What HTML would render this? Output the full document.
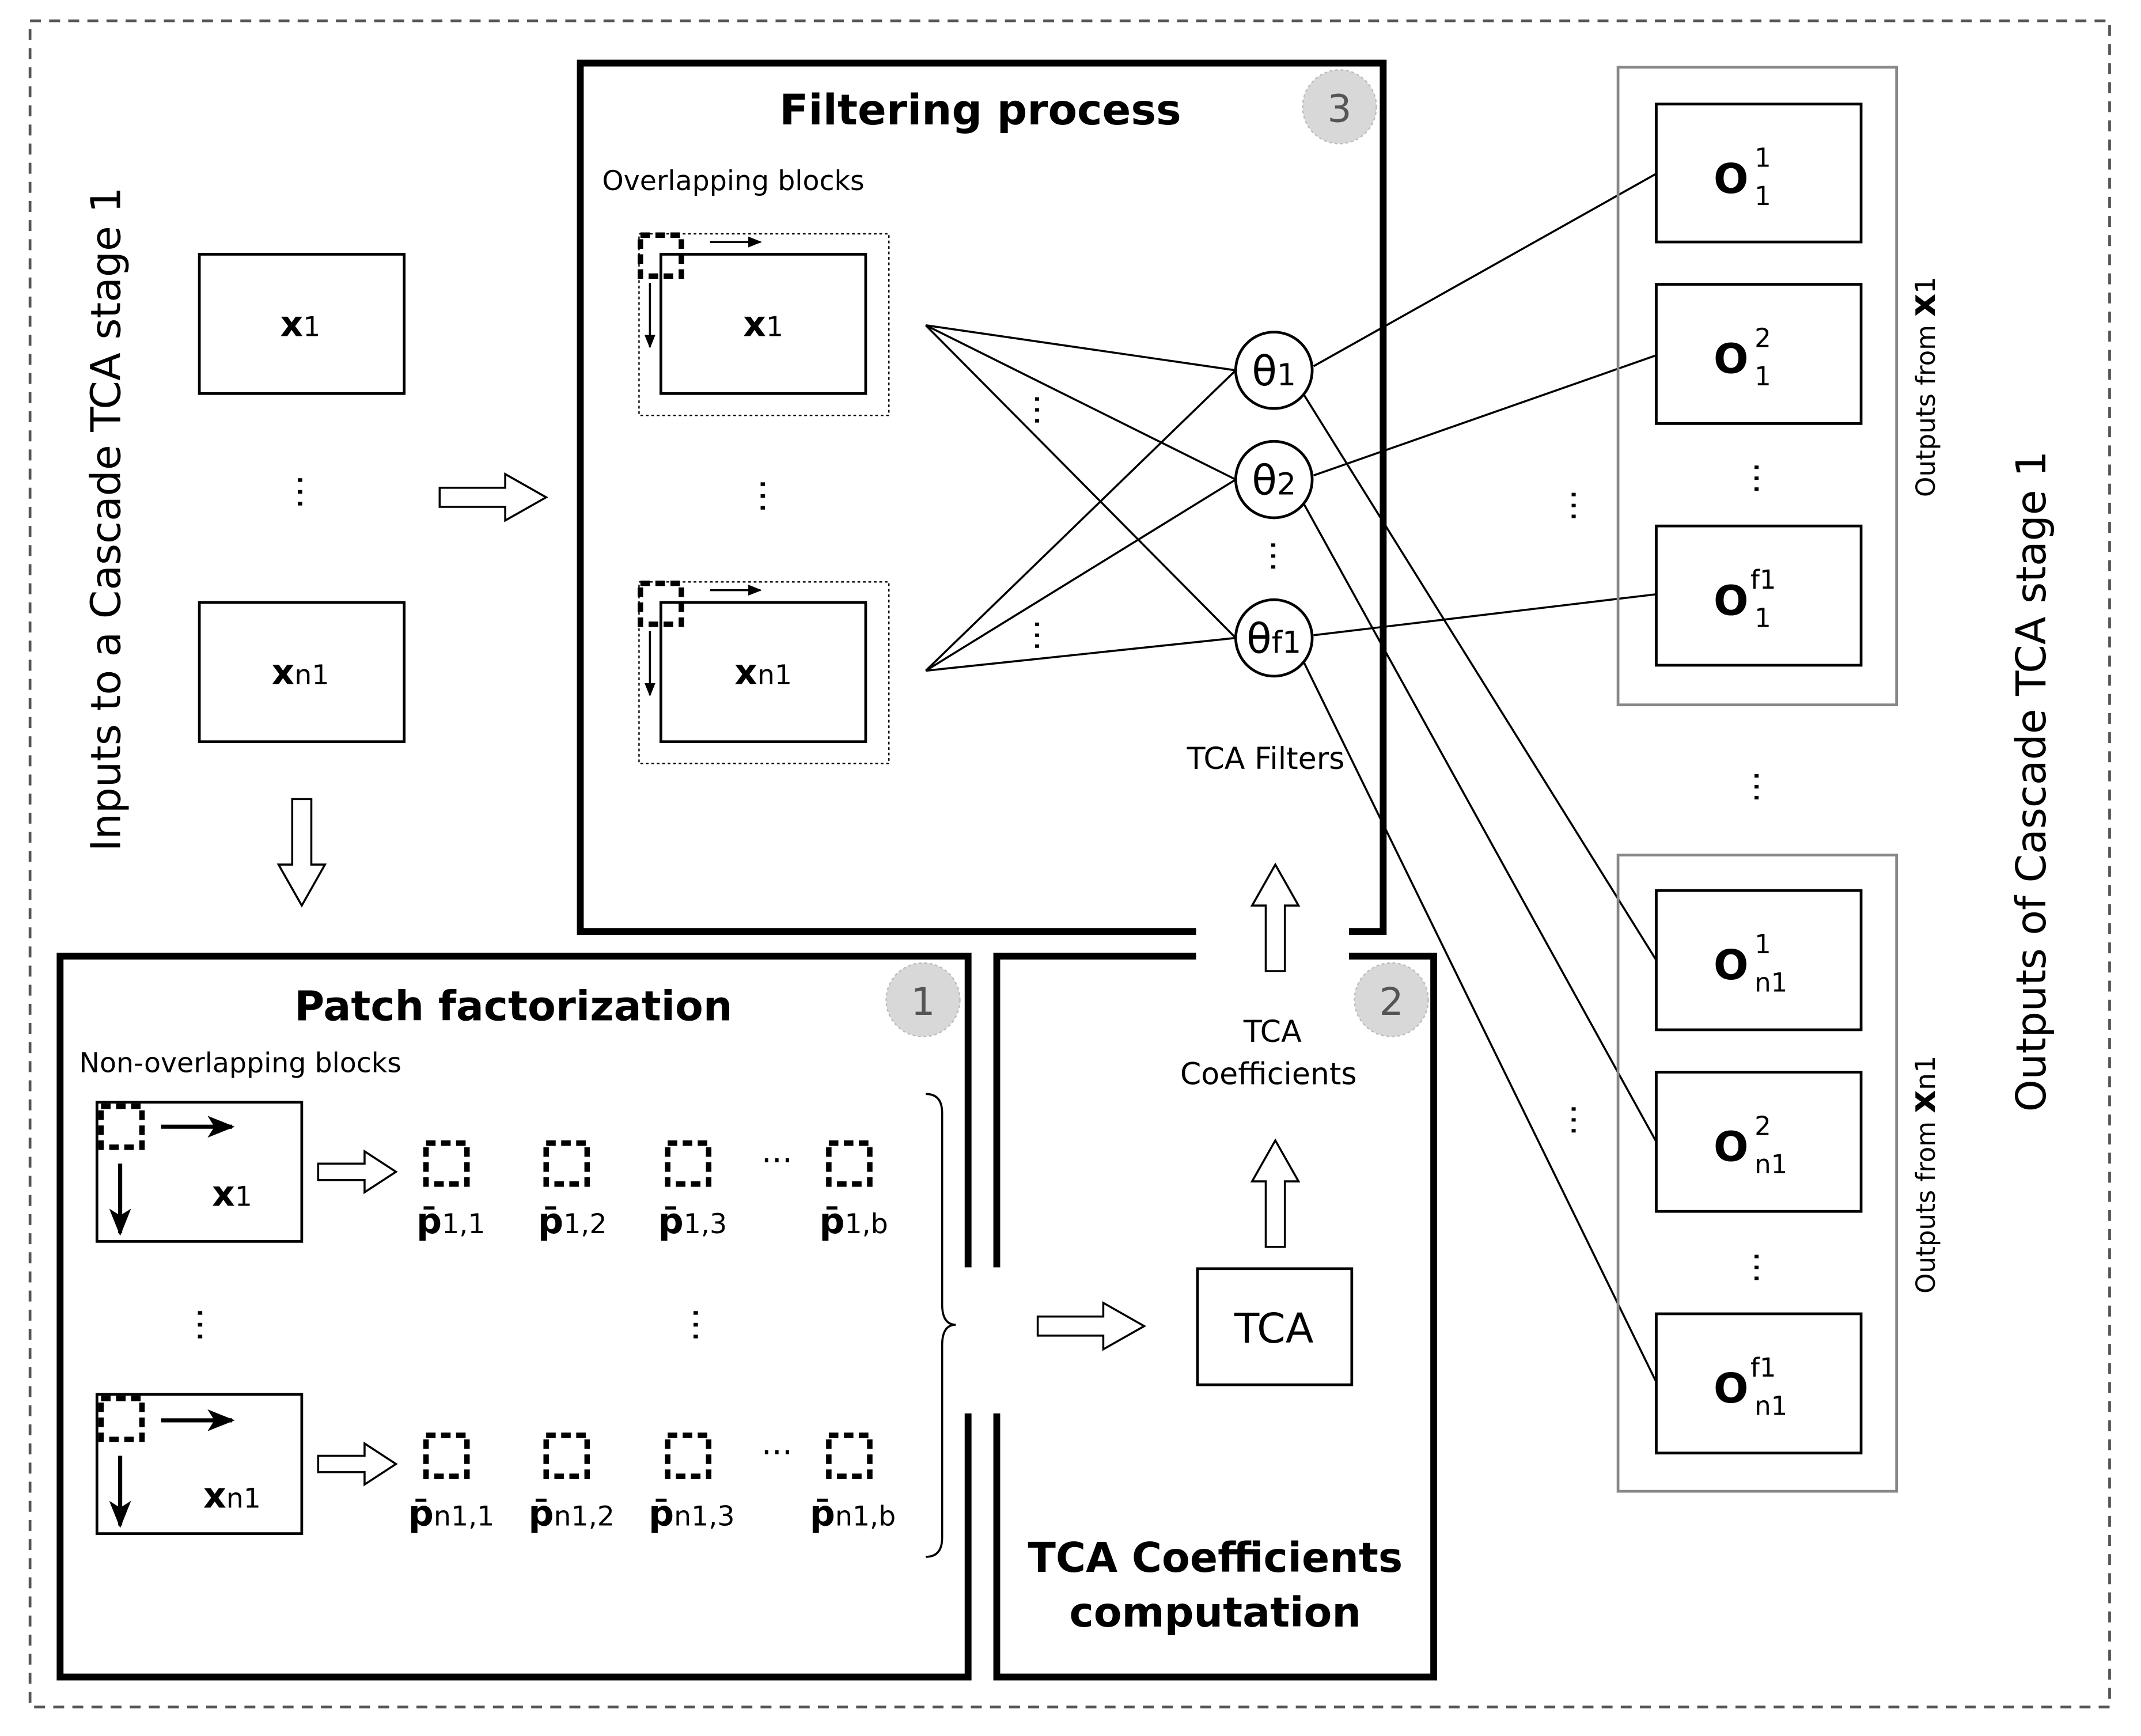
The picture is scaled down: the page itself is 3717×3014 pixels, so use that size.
<!DOCTYPE html>
<html><head><meta charset="utf-8"><style>
html,body{margin:0;padding:0;background:#fff}
svg{display:block}
text{font-family:"DejaVu Sans","Liberation Sans",sans-serif;fill:#000}
</style></head><body>
<svg width="3717" height="3014" viewBox="0 0 1568 1271" xmlns="http://www.w3.org/2000/svg">
<defs>
<marker id="ah" markerWidth="10" markerHeight="8" refX="9" refY="4" orient="auto" markerUnits="userSpaceOnUse"><path d="M0,0 L10,4 L0,8 z" fill="#000"/></marker>
<marker id="ahb" markerWidth="20" markerHeight="16" refX="18" refY="8" orient="auto" markerUnits="userSpaceOnUse"><path d="M0,0 L20,8 L0,16 L5,8 z" fill="#000"/></marker>
<g id="hr"><path d="M0,-7 H48 V-17 L78,0 L48,17 V7 H0 z" fill="#fff" stroke="#000" stroke-width="1.5"/></g>
<g id="hrs"><path d="M0,-6 H34 V-15 L57,0 L34,15 V6 H0 z" fill="#fff" stroke="#000" stroke-width="1.5"/></g>
<g id="hu"><path d="M-7,78 V30 H-17 L0,0 L17,30 H7 V78 z" fill="#fff" stroke="#000" stroke-width="1.5"/></g>
<g id="dsq"><rect x="0" y="0" width="30" height="30" fill="none" stroke="#000" stroke-width="4" stroke-dasharray="7,4"/></g>
</defs>

<rect x="22" y="15" width="1523" height="1235" fill="none" stroke="#555" stroke-width="2" stroke-dasharray="8,6"/>

<text transform="translate(88,380) rotate(-90)" font-size="30" text-anchor="middle">Inputs to a Cascade TCA stage 1</text>

<rect x="146" y="186" width="150" height="102" fill="none" stroke="#000" stroke-width="2"/>
<text x="220" y="246" font-size="26" font-weight="bold" text-anchor="middle">x<tspan font-size="20" font-weight="normal">1</tspan></text>
<text x="220" y="362" font-size="26" text-anchor="middle" transform="rotate(90 220 360)">…</text>
<rect x="146" y="441" width="150" height="102" fill="none" stroke="#000" stroke-width="2"/>
<text x="220" y="501" font-size="26" font-weight="bold" text-anchor="middle">x<tspan font-size="20" font-weight="normal">n1</tspan></text>
<use href="#hr" x="322" y="364"/>
<use href="#hu" x="221" y="587" transform="rotate(180 221 625)"/>

<!-- Filtering process box -->
<path d="M876,682 H425 V46 H1013 V682 H988" fill="none" stroke="#000" stroke-width="5"/>
<text x="718" y="91" font-size="31" font-weight="bold" text-anchor="middle">Filtering process</text>
<circle cx="981" cy="78" r="27" fill="#d8d8d8" stroke="#bbb" stroke-dasharray="2,2"/>
<text x="981" y="89" font-size="28" fill="#555" text-anchor="middle" style="fill:#555">3</text>
<text x="441" y="139" font-size="20">Overlapping blocks</text>

<rect x="468" y="171" width="183" height="133" fill="none" stroke="#000" stroke-width="1" stroke-dasharray="2,2"/>
<rect x="484" y="186" width="150" height="102" fill="none" stroke="#000" stroke-width="2"/>
<use href="#dsq" x="469" y="172"/>
<line x1="520" y1="177" x2="557" y2="177" stroke="#000" stroke-width="1.5" marker-end="url(#ah)"/>
<line x1="476" y1="207" x2="476" y2="254" stroke="#000" stroke-width="1.5" marker-end="url(#ah)"/>
<text x="559" y="246" font-size="26" font-weight="bold" text-anchor="middle">x<tspan font-size="20" font-weight="normal">1</tspan></text>
<text x="559" y="365" font-size="26" text-anchor="middle" transform="rotate(90 559 363)">…</text>
<rect x="468" y="426" width="183" height="133" fill="none" stroke="#000" stroke-width="1" stroke-dasharray="2,2"/>
<rect x="484" y="441" width="150" height="102" fill="none" stroke="#000" stroke-width="2"/>
<use href="#dsq" x="469" y="427"/>
<line x1="520" y1="432" x2="557" y2="432" stroke="#000" stroke-width="1.5" marker-end="url(#ah)"/>
<line x1="476" y1="462" x2="476" y2="509" stroke="#000" stroke-width="1.5" marker-end="url(#ah)"/>
<text x="559" y="501" font-size="26" font-weight="bold" text-anchor="middle">x<tspan font-size="20" font-weight="normal">n1</tspan></text>

<g stroke="#000" stroke-width="1.5">
<line x1="678" y1="238" x2="905" y2="271"/>
<line x1="678" y1="238" x2="905" y2="351"/>
<line x1="678" y1="238" x2="905" y2="467"/>
<line x1="678" y1="491" x2="905" y2="271"/>
<line x1="678" y1="491" x2="905" y2="351"/>
<line x1="678" y1="491" x2="905" y2="467"/>
<line x1="962" y1="268" x2="1213" y2="127"/>
<line x1="962" y1="348" x2="1213" y2="260"/>
<line x1="962" y1="465" x2="1213" y2="435"/>
<line x1="955" y1="289" x2="1213" y2="703"/>
<line x1="955" y1="369" x2="1213" y2="836"/>
<line x1="955" y1="485" x2="1213" y2="1012"/>
</g>
<text x="760" y="302" font-size="24" text-anchor="middle" transform="rotate(90 760 300)">…</text>
<text x="760" y="467" font-size="24" text-anchor="middle" transform="rotate(90 760 465)">…</text>
<text x="933" y="409" font-size="24" text-anchor="middle" transform="rotate(90 933 407)">…</text>

<g fill="#fff" stroke="#000" stroke-width="2">
<circle cx="933" cy="271" r="28"/><circle cx="933" cy="351" r="28"/><circle cx="933" cy="467" r="28"/>
</g>
<text x="933" y="282" font-size="30" text-anchor="middle">θ<tspan font-size="22">1</tspan></text>
<text x="933" y="362" font-size="30" text-anchor="middle">θ<tspan font-size="22">2</tspan></text>
<text x="933" y="478" font-size="30" text-anchor="middle">θ<tspan font-size="22">f1</tspan></text>
<text x="927" y="563" font-size="22" text-anchor="middle">TCA Filters</text>

<use href="#hu" x="934" y="633"/>
<text x="932" y="763" font-size="22" text-anchor="middle">TCA</text>
<text x="929" y="794" font-size="22" text-anchor="middle">Coefficients</text>
<use href="#hu" x="934" y="835"/>
<rect x="877" y="929" width="113" height="85" fill="none" stroke="#000" stroke-width="2"/>
<text x="933" y="983" font-size="30" text-anchor="middle">TCA</text>

<!-- box 2 -->
<path d="M730,928 V700 H876 M988,700 H1050 V1228 H730 V1035" fill="none" stroke="#000" stroke-width="5"/>
<circle cx="1019" cy="732" r="27" fill="#d8d8d8" stroke="#bbb" stroke-dasharray="2,2"/>
<text x="1019" y="743" font-size="28" text-anchor="middle" style="fill:#555">2</text>
<text x="890" y="1151" font-size="30" font-weight="bold" text-anchor="middle">TCA Coefficients</text>
<text x="890" y="1191" font-size="30" font-weight="bold" text-anchor="middle">computation</text>

<!-- box 1 -->
<path d="M709,928 V700 H44 V1228 H709 V1035" fill="none" stroke="#000" stroke-width="5"/>
<circle cx="676" cy="732" r="27" fill="#d8d8d8" stroke="#bbb" stroke-dasharray="2,2"/>
<text x="676" y="743" font-size="28" text-anchor="middle" style="fill:#555">1</text>
<text x="376" y="747" font-size="30" font-weight="bold" text-anchor="middle">Patch factorization</text>
<text x="58" y="785" font-size="20">Non-overlapping blocks</text>

<rect x="71" y="807" width="150" height="102" fill="none" stroke="#000" stroke-width="2"/>
<use href="#dsq" x="74" y="810"/>
<line x1="118" y1="825" x2="170" y2="825" stroke="#000" stroke-width="3" marker-end="url(#ahb)"/>
<line x1="88" y1="852" x2="88" y2="903" stroke="#000" stroke-width="3" marker-end="url(#ahb)"/>
<text x="170" y="883" font-size="26" font-weight="bold" text-anchor="middle">x<tspan font-size="20" font-weight="normal">1</tspan></text>
<use href="#hrs" x="233" y="858"/>

<rect x="71" y="1021" width="150" height="102" fill="none" stroke="#000" stroke-width="2"/>
<use href="#dsq" x="74" y="1024"/>
<line x1="118" y1="1040" x2="170" y2="1040" stroke="#000" stroke-width="3" marker-end="url(#ahb)"/>
<line x1="88" y1="1066" x2="88" y2="1117" stroke="#000" stroke-width="3" marker-end="url(#ahb)"/>
<text x="170" y="1104" font-size="26" font-weight="bold" text-anchor="middle">x<tspan font-size="20" font-weight="normal">n1</tspan></text>
<use href="#hrs" x="233" y="1072"/>

<text x="147" y="972" font-size="26" text-anchor="middle" transform="rotate(90 147 970)">…</text>
<text x="510" y="972" font-size="26" text-anchor="middle" transform="rotate(90 510 970)">…</text>

<use href="#dsq" x="312" y="837"/><use href="#dsq" x="400" y="837"/><use href="#dsq" x="489" y="837"/><use href="#dsq" x="607" y="837"/>
<text x="569" y="858" font-size="24" text-anchor="middle">···</text>
<g font-size="26" font-weight="bold">
<text x="305" y="903">p̄<tspan font-size="20" font-weight="normal">1,1</tspan></text>
<text x="394" y="903">p̄<tspan font-size="20" font-weight="normal">1,2</tspan></text>
<text x="482" y="903">p̄<tspan font-size="20" font-weight="normal">1,3</tspan></text>
<text x="600" y="903">p̄<tspan font-size="20" font-weight="normal">1,b</tspan></text>
</g>
<use href="#dsq" x="312" y="1051"/><use href="#dsq" x="400" y="1051"/><use href="#dsq" x="489" y="1051"/><use href="#dsq" x="607" y="1051"/>
<text x="569" y="1072" font-size="24" text-anchor="middle">···</text>
<g font-size="26" font-weight="bold">
<text x="299" y="1117">p̄<tspan font-size="20" font-weight="normal">n1,1</tspan></text>
<text x="387" y="1117">p̄<tspan font-size="20" font-weight="normal">n1,2</tspan></text>
<text x="475" y="1117">p̄<tspan font-size="20" font-weight="normal">n1,3</tspan></text>
<text x="593" y="1117">p̄<tspan font-size="20" font-weight="normal">n1,b</tspan></text>
</g>
<path d="M678,801 Q690,801 690,815 V955 Q690,970 700,970 Q690,970 690,985 V1126 Q690,1140 678,1140" fill="none" stroke="#000" stroke-width="1.5"/>
<use href="#hr" x="760" y="971"/>

<!-- right side -->
<rect x="1185" y="49" width="204" height="467" fill="none" stroke="#888" stroke-width="2"/>
<rect x="1185" y="626" width="204" height="466" fill="none" stroke="#888" stroke-width="2"/>
<g fill="#fff" stroke="#000" stroke-width="2">
<rect x="1213" y="76" width="150" height="101"/>
<rect x="1213" y="208" width="150" height="102"/>
<rect x="1213" y="385" width="150" height="102"/>
<rect x="1213" y="652" width="150" height="102"/>
<rect x="1213" y="785" width="150" height="102"/>
<rect x="1213" y="962" width="150" height="102"/>
</g>
<g font-size="30" font-weight="bold">
<text x="1255" y="141">O</text><text x="1285" y="122" font-size="19" font-weight="normal">1</text><text x="1285" y="150" font-size="19" font-weight="normal">1</text>
<text x="1255" y="273">O</text><text x="1285" y="254" font-size="19" font-weight="normal">2</text><text x="1285" y="282" font-size="19" font-weight="normal">1</text>
<text x="1255" y="450">O</text><text x="1282" y="431" font-size="19" font-weight="normal">f1</text><text x="1285" y="459" font-size="19" font-weight="normal">1</text>
<text x="1255" y="717">O</text><text x="1285" y="698" font-size="19" font-weight="normal">1</text><text x="1285" y="726" font-size="19" font-weight="normal">n1</text>
<text x="1255" y="850">O</text><text x="1285" y="831" font-size="19" font-weight="normal">2</text><text x="1285" y="859" font-size="19" font-weight="normal">n1</text>
<text x="1255" y="1027">O</text><text x="1282" y="1008" font-size="19" font-weight="normal">f1</text><text x="1285" y="1036" font-size="19" font-weight="normal">n1</text>
</g>
<text x="1287" y="352" font-size="24" text-anchor="middle" transform="rotate(90 1287 350)">…</text>
<text x="1287" y="578" font-size="24" text-anchor="middle" transform="rotate(90 1287 576)">…</text>
<text x="1287" y="930" font-size="24" text-anchor="middle" transform="rotate(90 1287 928)">…</text>
<text x="1153" y="372" font-size="24" text-anchor="middle" transform="rotate(90 1153 370)">…</text>
<text x="1153" y="822" font-size="24" text-anchor="middle" transform="rotate(90 1153 820)">…</text>

<text transform="translate(1417,283) rotate(-90)" font-size="19" text-anchor="middle">Outputs from <tspan font-weight="bold" font-size="26">x</tspan><tspan font-size="20">1</tspan></text>
<text transform="translate(1417,860) rotate(-90)" font-size="19" text-anchor="middle">Outputs from <tspan font-weight="bold" font-size="26">x</tspan><tspan font-size="20">n1</tspan></text>
<text transform="translate(1498,572) rotate(-90)" font-size="30" text-anchor="middle">Outputs of Cascade TCA stage 1</text>
</svg>
</body></html>
